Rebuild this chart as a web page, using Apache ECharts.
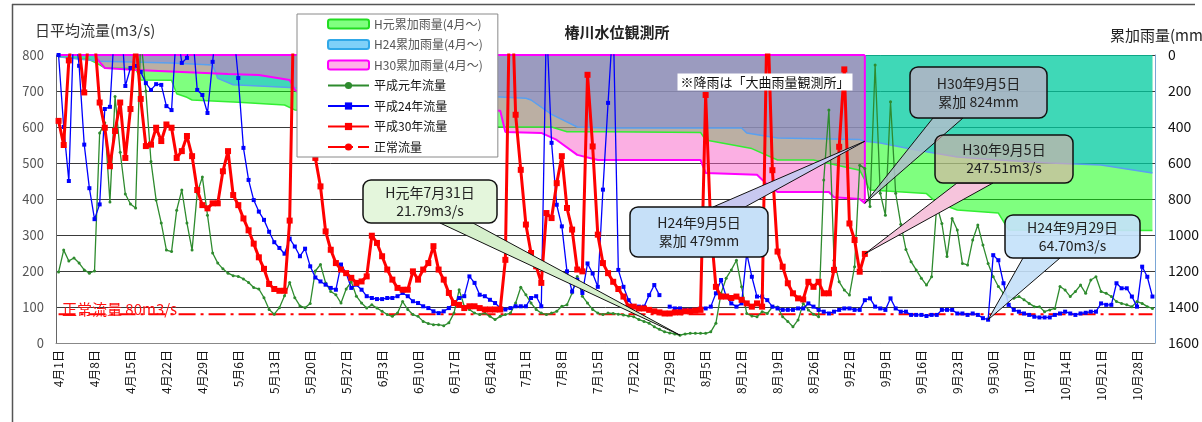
<!DOCTYPE html>
<html>
<head>
<meta charset="utf-8">
<title>椿川水位観測所</title>
<script src="https://cdn.jsdelivr.net/npm/echarts/dist/echarts.min.js"></script>
<style>
html, body { margin: 0; padding: 0; background: #fff; }
#main { width: 1202px; height: 422px; }
</style>
</head>
<body>
<div id="main"></div>
<script>
var FONT = '"Noto Sans CJK JP", "Noto Sans", sans-serif';

// 4/1 - 10/31 daily categories
var MONTHS = [4, 5, 6, 7, 8, 9, 10];
var MONTH_DAYS = [30, 31, 30, 31, 31, 30, 31];
var CATEGORIES = [];
MONTHS.forEach(function (m, i) {
	for (var d = 1; d <= MONTH_DAYS[i]; d++) CATEGORIES.push(m + '月' + d + '日');
});

// 日平均流量 (m3/s)
var H1_FLOW = [
	197, 258, 228, 236, 222, 203, 194, 200, 583, 612,
	392, 685, 530, 414, 386, 375, 850, 700, 504, 397,
	333, 258, 254, 369, 425, 333, 258, 417, 461, 355,
	250, 222, 206, 194, 187, 185, 178, 168, 154, 150,
	126, 93, 80, 98, 131, 168, 126, 103, 98, 110,
	200, 218, 167, 143, 134, 111, 150, 170, 130, 111,
	97, 106, 97, 88, 79, 74, 83, 115, 93, 79,
	74, 60, 54, 51, 51, 48, 56, 83, 148, 102,
	93, 83, 79, 83, 74, 65, 74, 79, 83, 111,
	155, 134, 111, 93, 83, 79, 83, 88, 102, 106,
	139, 185, 130, 111, 93, 83, 79, 83, 82, 80,
	78, 75, 73, 65, 60, 55, 45, 38, 31, 28,
	25, 21.79, 25, 27, 27, 27, 27, 31, 55, 138,
	180, 203, 230, 156, 82, 75, 73, 87, 82, 100,
	100, 73, 60, 45, 64, 110, 92, 80, 73, 453,
	647, 230, 170, 147, 133, 212, 494, 485, 379, 772,
	416, 355, 670, 416, 330, 260, 226, 203, 180, 161,
	184, 383, 332, 240, 346, 314, 221, 217, 286, 328,
	272, 221, 184, 157, 138, 129, 124, 129, 120, 110,
	101, 101, 87, 92, 96, 157, 147, 129, 143, 161,
	138, 175, 184, 143, 138, 129, 115, 110, 106, 101,
	115, 110, 101, 96
];
var H24_FLOW = [
	800, 600, 450, 900, 770, 551, 430, 344, 385, 650,
	656, 900, 950, 714, 764, 770, 753, 722, 703, 719,
	717, 658, 647, 880, 778, 792, 880, 703, 689, 639,
	781, 920, 1000, 950, 880, 736, 542, 453, 397, 365,
	342, 309, 280, 264, 248, 290, 268, 241, 262, 213,
	182, 171, 162, 153, 148, 218, 194, 153, 162, 148,
	130, 125, 122, 122, 125, 125, 130, 139, 130, 116,
	111, 102, 97, 88, 83, 88, 97, 111, 125, 130,
	185, 167, 134, 130, 120, 111, 97, 93, 97, 102,
	102, 102, 125, 130, 102, 900, 556, 384, 324, 199,
	143, 176, 139, 221, 193, 156, 426, 667, 900, 203,
	156, 119, 101, 101, 101, 133, 161, 133, null, 101,
	96, 96, 92, 92, 92, 96, 96, 101, 138, 175,
	129, 110, 101, 110, 249, 184, 129, 129, 119, 101,
	96, 92, 92, 92, 96, 96, 110, 101, 92, 87,
	82, 87, 92, 96, 96, 92, 92, 119, 124, 101,
	96, 92, 124, 96, 87, 87, 78, 78, 78, 75,
	78, 78, 92, 92, 92, 82, 82, 78, 82, 78,
	69, 64.7, 244, 230, 166, 106, 92, 87, 82, 78,
	73, 71, 71, 71, 78, 82, 87, 82, 78, 82,
	84, 87, 87, 110, 106, 106, 166, 152, 152, 129,
	101, 212, 184, 129
];
var H30_FLOW = [
	617, 550, 785, 880, 820, 696, 880, 850, 668, 598,
	491, 589, 668, 514, 650, 850, 678, 547, 551, 598,
	561, 607, 598, 514, 533, 575, 519, 425, 383, 374,
	388, 388, 477, 533, 411, 383, 346, 313, 276, 238,
	206, 164, 150, 145, 145, 340, 1100, 1300, 1200, 900,
	514, 435, 310, 259, 222, 204, 194, 181, 167, 171,
	185, 298, 278, 241, 204, 176, 153, 148, 148, 199,
	176, 204, 222, 269, 204, 176, 139, 111, 106, 97,
	102, 102, 97, 93, 93, 93, 93, 231, 1100, 634,
	481, 329, 250, 213, 167, 361, 347, 444, 519, 375,
	315, 204, 199, 745, 546, 301, 222, 194, 170, 150,
	129, 101, 101, 96, 96, 92, 88, 85, 82, 82,
	85, 85, 88, 88, 90, 92, 689, 320, 156, 129,
	129, 125, 129, 120, 110, 101, 110, 101, 950, 480,
	254, 212, 166, 138, 124, 121, 170, 156, 170, 138,
	138, 203, 545, 760, 332, 286, 198, 247.51
];
var NORMAL_FLOW = 80;

// 累加雨量 (mm): [日のindex, 累加値]
var H1_RAIN = [
	[0, 10], [6, 25], [8, 55], [9, 72], [15, 75], [16, 139], [22, 140], [23, 215],
	[25, 235], [26, 250], [35, 262], [44, 278], [46, 305], [60, 330], [75, 360],
	[86, 400], [96, 400], [99, 426], [107, 426], [125, 430], [126, 472], [135, 520],
	[140, 583], [147, 583], [156, 640], [158, 750], [169, 770], [171, 820], [175, 861],
	[183, 878], [185, 972], [213, 975]
];
var H24_RAIN = [
	[0, 10], [2, 17], [8, 35], [22, 45], [30, 55], [31, 130], [34, 165], [45, 180],
	[50, 190], [70, 215], [86, 233], [91, 240], [92, 250], [96, 330], [101, 400],
	[107, 406], [133, 406], [134, 433], [140, 461], [156, 470], [157, 479], [160, 489],
	[167, 528], [175, 567], [183, 583], [193, 600], [203, 611], [213, 656]
];
var H30_RAIN = [
	[0, 0], [7, 0], [8, 40], [9, 72], [15, 83], [24, 94], [33, 105], [39, 111],
	[45, 139], [46, 194], [48, 230], [60, 250], [61, 275], [73, 300], [86, 310],
	[87, 428], [94, 433], [97, 472], [101, 555], [105, 583], [125, 583], [126, 655],
	[136, 665], [138, 720], [140, 761], [150, 761], [151, 790], [156, 800], [157, 824]
];

var RAIN_NAMES = ['H元累加雨量(4月～)', 'H24累加雨量(4月～)', 'H30累加雨量(4月～)'];
var FLOW_NAMES = ['平成元年流量', '平成24年流量', '平成30年流量', '正常流量'];

var LAST_DAY = CATEGORIES.length - 1;
var H30_LAST = H30_FLOW.length - 1;

function rainSeries(name, data, fill, edge, edgeWidth) {
	return {
		name: name, type: 'line', yAxisIndex: 1, data: data,
		symbol: 'none', z: 1, silent: true,
		lineStyle: { color: edge, width: edgeWidth },
		areaStyle: { color: fill, opacity: 0.5 }
	};
}

var chart = echarts.init(document.getElementById('main'));

var option = {
	animation: false,
	textStyle: { fontFamily: FONT },
	grid: { left: 56, right: 47, top: 55, bottom: 79, outerBoundsMode: 'none' },
	legend: {
		orient: 'vertical', left: 297, top: 14, selectedMode: false, z: 20,
		backgroundColor: '#fff', borderColor: '#8a8a8a', borderWidth: 1,
		padding: [3, 15, 3, 30], itemGap: 6.5, itemWidth: 41, itemHeight: 9,
		textStyle: { fontSize: 12, color: '#111', lineHeight: 14, fontFamily: FONT },
		data: [
			{ name: RAIN_NAMES[0], icon: 'roundRect', itemStyle: { color: '#80ff80', borderColor: '#22dd22', borderWidth: 2 }, textStyle: { color: '#555' } },
			{ name: RAIN_NAMES[1], icon: 'roundRect', itemStyle: { color: '#7fd0f8', borderColor: '#30a8e8', borderWidth: 2 }, textStyle: { color: '#555' } },
			{ name: RAIN_NAMES[2], icon: 'roundRect', itemStyle: { color: '#ffb0e8', borderColor: '#ff00ff', borderWidth: 2 }, textStyle: { color: '#555' } },
			{ name: FLOW_NAMES[0] },
			{ name: FLOW_NAMES[1] },
			{ name: FLOW_NAMES[2] },
			{ name: FLOW_NAMES[3] }
		]
	},
	xAxis: {
		type: 'category', data: CATEGORIES, boundaryGap: true,
		axisLine: { lineStyle: { color: '#888' } },
		axisTick: { inside: true, length: 5, interval: 6, lineStyle: { color: '#777' } },
		axisLabel: { interval: 6, rotate: 90, fontSize: 12, color: '#111', margin: 7 },
		splitLine: { show: false }
	},
	yAxis: [
		{
			type: 'value', min: 0, max: 800, interval: 100, position: 'left',
			axisLine: { show: true, lineStyle: { color: '#666' } }, axisTick: { show: false },
			axisLabel: { fontSize: 13, color: '#555', margin: 12, formatter: function (v) { return String(v); } },
			splitLine: { lineStyle: { color: '#3a3a3a', width: 1 } }
		},
		{
			type: 'value', min: 0, max: 1600, interval: 200, inverse: true, position: 'right',
			axisLine: { show: true, lineStyle: { color: '#7aa6d6' } }, axisTick: { show: false },
			axisLabel: { fontSize: 14, color: '#111', margin: 13, formatter: function (v) { return String(v); } },
			splitLine: { show: false }
		}
	],
	series: [
		rainSeries(RAIN_NAMES[0], H1_RAIN, '#00ff00', '#33ee33', 1.5),
		rainSeries(RAIN_NAMES[1], H24_RAIN, '#00b1f0', '#5aa0f0', 1.5),
		rainSeries(RAIN_NAMES[2], H30_RAIN.concat([[H30_LAST, 0]]), '#f860c8', '#ff00ff', 2),
		{
			type: 'line', yAxisIndex: 1, data: [[0, 0], [H30_LAST, 0]], symbol: 'none', z: 1, silent: true,
			lineStyle: { color: '#ff00ff', width: 2 }
		},
		{
			name: FLOW_NAMES[3], type: 'line', data: [[0, NORMAL_FLOW], [LAST_DAY, NORMAL_FLOW]],
			symbol: 'none', z: 2, lineStyle: { color: '#ff0000', width: 2, type: [17, 5, 3, 5] },
			itemStyle: { color: '#ff0000' }
		},
		{
			name: FLOW_NAMES[0], type: 'line', data: H1_FLOW, z: 3,
			symbol: 'circle', symbolSize: 3, showAllSymbol: true,
			lineStyle: { color: '#2e8b2e', width: 1.3 }, itemStyle: { color: '#2e8b2e' }
		},
		{
			name: FLOW_NAMES[1], type: 'line', data: H24_FLOW, z: 3,
			symbol: 'rect', symbolSize: 4, showAllSymbol: true, connectNulls: false,
			lineStyle: { color: '#0000ff', width: 1.3 }, itemStyle: { color: '#0000ff' }
		},
		{
			name: FLOW_NAMES[2], type: 'line', data: H30_FLOW, z: 4,
			symbol: 'rect', symbolSize: 6, showAllSymbol: true,
			lineStyle: { color: '#ff0000', width: 3 }, itemStyle: { color: '#ff0000' }
		}
	]
};

chart.setOption(option);

// callouts: box = [x, y, w, h]; base = two points on the box edge; tip from data
var SERIES_LEFT = 5;   // a series on the flow axis
var SERIES_RIGHT = 0;  // a series on the rain axis

function rainAt(list, day) {
	for (var i = 0; i < list.length; i++) if (list[i][0] === day) return list[i][1];
	return null;
}

var D_0731 = CATEGORIES.indexOf('7月31日');
var D_0905 = CATEGORIES.indexOf('9月5日');
var D_0929 = CATEGORIES.indexOf('9月29日');

var CALLOUTS = [
	{
		box: [363, 180, 134, 43], base: [[440, 223], [473, 223]],
		series: SERIES_LEFT, day: D_0731, value: H1_FLOW[D_0731],
		fill: '#e4f6dc', wedge: '#d6f0cc', lines: ['H元年7月31日', H1_FLOW[D_0731] + 'm3/s']
	},
	{
		box: [630, 207, 138, 50], base: [[713, 207], [745, 207]],
		series: SERIES_RIGHT, day: D_0905, value: rainAt(H24_RAIN, D_0905),
		fill: '#c6e0f8', wedge: '#c8c8f0', lines: ['H24年9月5日', '累加 ' + rainAt(H24_RAIN, D_0905) + 'mm']
	},
	{
		box: [910, 67, 137, 51], base: [[933, 118], [963, 118]],
		series: SERIES_RIGHT, day: D_0905, value: rainAt(H30_RAIN, D_0905),
		fill: 'rgba(190,176,200,0.8)', wedge: 'rgba(176,190,204,0.85)', lines: ['H30年9月5日', '累加 ' + rainAt(H30_RAIN, D_0905) + 'mm']
	},
	{
		box: [935, 135, 138, 48], base: [[957, 183], [993, 183]],
		series: SERIES_LEFT, day: D_0905, value: H30_FLOW[D_0905],
		fill: 'rgba(230,170,170,0.6)', wedge: '#f6c4dc', lines: ['H30年9月5日', H30_FLOW[D_0905] + 'm3/s']
	},
	{
		box: [1005, 215, 135, 43], base: [[1023, 258], [1060, 258]],
		series: SERIES_LEFT, day: D_0929, value: H24_FLOW[D_0929],
		fill: 'rgba(196,226,250,0.92)', wedge: 'rgba(196,224,248,0.9)', lines: ['H24年9月29日', H24_FLOW[D_0929].toFixed(2) + 'm3/s']
	}
];

var elements = [
	{ type: 'line', z: 90, shape: { x1: 12, y1: 4.5, x2: 1195, y2: 4.5 }, style: { stroke: '#555', lineWidth: 1.5 } },
	{ type: 'line', z: 90, shape: { x1: 12.5, y1: 4, x2: 12.5, y2: 422 }, style: { stroke: '#555', lineWidth: 1.5 } },
	{ type: 'text', z: 90, x: 617, y: 32, style: { text: '椿川水位観測所', font: 'bold 15px ' + FONT, fill: '#222', align: 'center', verticalAlign: 'middle' } },
	{ type: 'text', z: 90, x: 35, y: 30, style: { text: '日平均流量(m3/s)', font: '15px ' + FONT, fill: '#333', align: 'left', verticalAlign: 'middle' } },
	{ type: 'text', z: 90, x: 1110, y: 35, style: { text: '累加雨量(mm)', font: '15px ' + FONT, fill: '#222', align: 'left', verticalAlign: 'middle' } },
	{ type: 'text', z: 90, x: 62, y: 309, style: { text: '正常流量 ' + NORMAL_FLOW + 'm3/s', font: '15px ' + FONT, fill: '#ff1010', align: 'left', verticalAlign: 'middle' } },
	{ type: 'text', z: 90, x: 765, y: 82, style: { text: '※降雨は「大曲雨量観測所」', font: '13px ' + FONT, fill: '#111', align: 'center', verticalAlign: 'middle', backgroundColor: '#fff', padding: [2, 3] } }
];

CALLOUTS.forEach(function (c) {
	var tip = chart.convertToPixel({ seriesIndex: c.series }, [c.day, c.value]);
	elements.push({
		type: 'polygon', z: 100,
		shape: { points: [c.base[0], c.base[1], tip] },
		style: { fill: c.wedge, stroke: '#111', lineWidth: 1 }
	});
	elements.push({
		type: 'rect', z: 101,
		shape: { x: c.box[0], y: c.box[1], width: c.box[2], height: c.box[3], r: 8 },
		style: { fill: c.fill, stroke: '#111', lineWidth: 1.5 }
	});
	c.lines.forEach(function (t, i) {
		elements.push({
			type: 'text', z: 102,
			x: c.box[0] + c.box[2] / 2, y: c.box[1] + c.box[3] / 2 + (i - 0.5) * 18,
			style: { text: t, font: '14px ' + FONT, fill: '#222', align: 'center', verticalAlign: 'middle' }
		});
	});
});

chart.setOption({ graphic: { elements: elements } });
</script>
</body>
</html>
